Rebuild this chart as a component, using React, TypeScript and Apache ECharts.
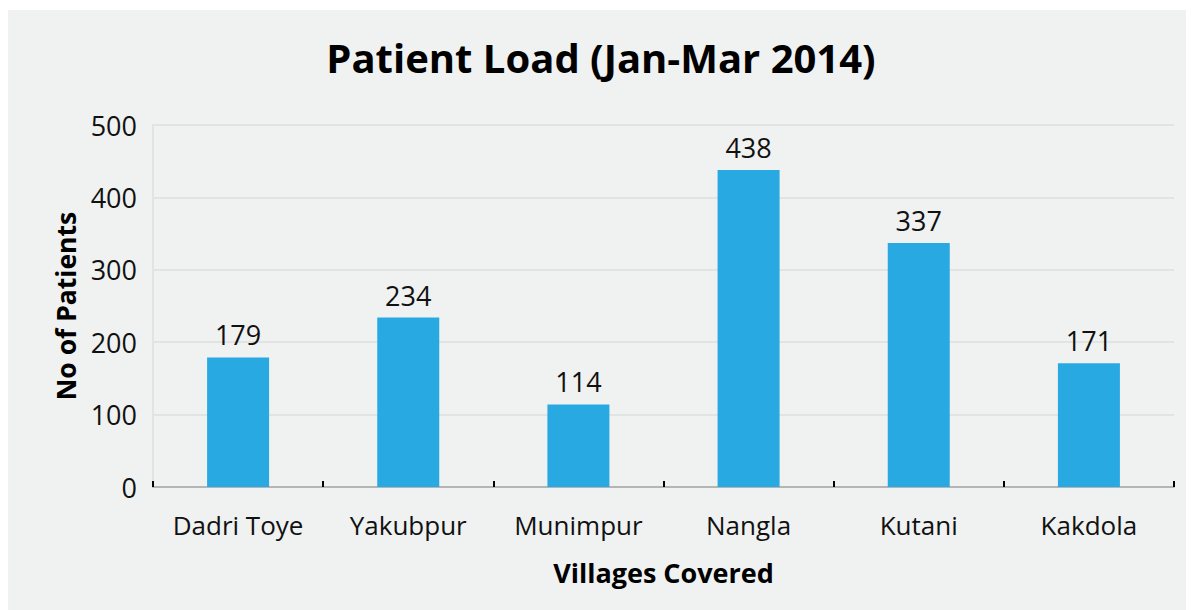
import React, { useEffect, useRef } from "react";
import * as echarts from "echarts";

const categories = ["Dadri Toye", "Yakubpur", "Munimpur", "Nangla", "Kutani", "Kakdola"];
const patients = [179, 234, 114, 438, 337, 171];
const titleText = "Patient Load (Jan-Mar 2014)";
const yName = "No of Patients";
const xName = "Villages Covered";

const FONT = "'Open Sans', sans-serif";

export default function App() {
  const ref = useRef<HTMLDivElement>(null);
  useEffect(() => {
    if (!ref.current) return;
    const chart = echarts.init(ref.current, undefined, { renderer: "svg" });
    chart.setOption({
      animation: false,
      backgroundColor: "#f0f1f1",
      textStyle: { fontFamily: FONT },
      title: {
        text: titleText,
        left: "center",
        top: 22,
        textStyle: { fontFamily: FONT, fontSize: 40, fontWeight: "bold", color: "#000" },
      },
      grid: { left: 145, right: 20, top: 115, bottom: 123 },
      xAxis: {
        type: "category",
        data: categories,
        name: xName,
        nameLocation: "middle",
        nameGap: 72,
        nameTextStyle: { fontFamily: FONT, fontSize: 27, fontWeight: "bold", color: "#000" },
        axisLine: { show: true, lineStyle: { color: "#b5b5b5", width: 2 } },
        axisTick: { show: true, inside: true, length: 6, lineStyle: { color: "#000", width: 2 } },
        axisLabel: { fontFamily: FONT, fontSize: 26, color: "#111", margin: 25 },
        splitLine: { show: false },
      },
      yAxis: {
        type: "value",
        min: 0,
        max: 500,
        interval: 100,
        name: yName,
        nameLocation: "middle",
        nameGap: 73,
        nameTextStyle: { fontFamily: FONT, fontSize: 26.5, fontWeight: "bold", color: "#000" },
        axisLine: { show: true, lineStyle: { color: "#e2e3e3", width: 2 } },
        axisTick: { show: false },
        axisLabel: { fontFamily: FONT, fontSize: 27, color: "#111", margin: 16 },
        splitLine: { show: true, lineStyle: { color: "#e2e3e3", width: 2 } },
      },
      series: [
        {
          type: "bar",
          data: patients,
          barWidth: 62,
          itemStyle: { color: "#29a9e1" },
          label: {
            show: true,
            position: "top",
            distance: 9,
            fontFamily: FONT,
            fontSize: 27,
            color: "#111",
          },
        },
      ],
    });
    return () => chart.dispose();
  }, []);
  return <div ref={ref} style={{ width: 1186, height: 600, marginTop: 2 }} />;
}
